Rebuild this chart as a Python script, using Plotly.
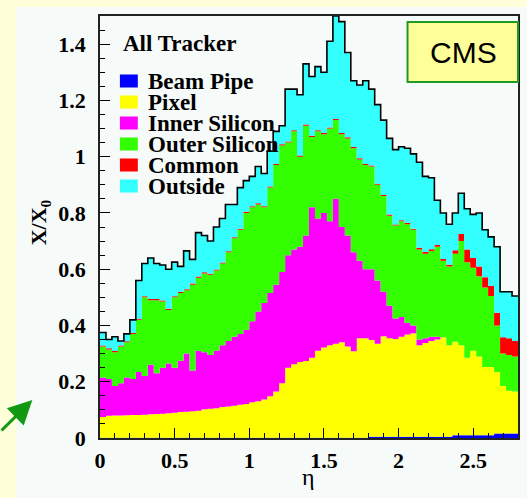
import numpy as np
import plotly.graph_objects as go

# ---------------- data (cumulative stack tops, X/X0) ----------------
eta_edges = np.linspace(0.0, 2.8, 71)   # 70 bins of 0.04 in eta

beam_top = [0.001] * 45 + [0.004] * 14 + [0.010] * 7 + [0.016] * 4

pixel_top = [0.075, 0.079, 0.080, 0.080, 0.081, 0.082, 0.082, 0.083, 0.084, 0.085,
             0.086, 0.088, 0.090, 0.092, 0.093, 0.095, 0.097, 0.102, 0.104, 0.106,
             0.110, 0.112, 0.115, 0.118, 0.121, 0.127, 0.131, 0.137, 0.148, 0.165,
             0.195, 0.250, 0.262, 0.270, 0.274, 0.285, 0.310, 0.322, 0.330, 0.335,
             0.340, 0.325, 0.308, 0.355, 0.355, 0.348, 0.335, 0.362, 0.355, 0.352,
             0.360, 0.368, 0.372, 0.330, 0.338, 0.345, 0.350, 0.358, 0.330, 0.342,
             0.330, 0.285, 0.310, 0.290, 0.252, 0.252, 0.235, 0.185, 0.168, 0.165]

inner_top = [0.215, 0.210, 0.185, 0.195, 0.215, 0.210, 0.235, 0.220, 0.260, 0.230,
             0.250, 0.265, 0.250, 0.275, 0.300, 0.240, 0.310, 0.305, 0.295, 0.310,
             0.330, 0.345, 0.360, 0.370, 0.385, 0.415, 0.450, 0.480, 0.515, 0.545,
             0.590, 0.650, 0.670, 0.680, 0.720, 0.820, 0.780, 0.800, 0.770, 0.850,
             0.750, 0.720, 0.660, 0.630, 0.600, 0.600, 0.560, 0.520, 0.470, 0.425,
             0.430, 0.410, 0.400, 0.350, 0.355, 0.360, 0.360, 0.358, 0.330, 0.342,
             0.330, 0.285, 0.310, 0.290, 0.252, 0.252, 0.235, 0.185, 0.168, 0.165]

outer_top = [0.325, 0.315, 0.305, 0.325, 0.340, 0.370, 0.420, 0.500, 0.490, 0.490,
             0.485, 0.455, 0.500, 0.515, 0.525, 0.545, 0.570, 0.585, 0.580, 0.595,
             0.620, 0.660, 0.710, 0.740, 0.800, 0.820, 0.830, 0.820, 0.890, 0.970,
             1.040, 1.050, 1.090, 1.000, 1.110, 1.070, 1.090, 1.080, 1.100, 1.130,
             1.080, 1.065, 1.030, 0.990, 0.970, 0.965, 0.900, 0.860, 0.790, 0.755,
             0.770, 0.760, 0.740, 0.670, 0.655, 0.665, 0.680, 0.630, 0.610, 0.655,
             0.700, 0.625, 0.605, 0.575, 0.535, 0.505, 0.400, 0.300, 0.295, 0.290]

common_top = [0.329, 0.319, 0.309, 0.329, 0.344, 0.374, 0.424, 0.504, 0.494, 0.494,
              0.489, 0.459, 0.504, 0.519, 0.529, 0.549, 0.574, 0.589, 0.584, 0.599,
              0.624, 0.664, 0.714, 0.744, 0.804, 0.824, 0.834, 0.824, 0.894, 0.974,
              1.044, 1.054, 1.094, 1.004, 1.114, 1.074, 1.094, 1.084, 1.104, 1.134,
              1.084, 1.069, 1.034, 0.994, 0.974, 0.969, 0.904, 0.864, 0.794, 0.759,
              0.774, 0.764, 0.744, 0.676, 0.661, 0.671, 0.686, 0.636, 0.616, 0.667,
              0.725, 0.670, 0.640, 0.610, 0.571, 0.540, 0.445, 0.358, 0.355, 0.345]

total_top = [0.375, 0.350, 0.360, 0.345, 0.370, 0.420, 0.560, 0.620, 0.640, 0.620,
             0.615, 0.600, 0.625, 0.610, 0.665, 0.635, 0.730, 0.720, 0.700, 0.750,
             0.780, 0.830, 0.830, 0.890, 0.915, 0.930, 0.965, 0.940, 1.020, 1.090,
             1.110, 1.240, 1.240, 1.220, 1.330, 1.285, 1.320, 1.300, 1.410, 1.500,
             1.480, 1.370, 1.270, 1.255, 1.270, 1.240, 1.185, 1.130, 1.065, 1.025,
             1.035, 1.030, 1.010, 0.980, 0.930, 0.925, 0.845, 0.800, 0.760, 0.800,
             0.870, 0.815, 0.795, 0.800, 0.740, 0.715, 0.680, 0.520, 0.520, 0.505]

layer_names = ["Beam Pipe", "Pixel", "Inner Silicon", "Outer Silicon", "Common", "Outside"]
layer_tops = [beam_top, pixel_top, inner_top, outer_top, common_top, total_top]
layer_colors = ["#0000FF", "#FFFF00", "#FF00FF", "#33FF00", "#FF0000", "#33FFFF"]

x_tick_vals = [0, 0.5, 1, 1.5, 2, 2.5]
x_tick_text = ["0", "0.5", "1", "1.5", "2", "2.5"]
y_tick_vals = [0, 0.2, 0.4, 0.6, 0.8, 1.0, 1.2, 1.4]
y_tick_text = ["0", "0.2", "0.4", "0.6", "0.8", "1", "1.2", "1.4"]

# ---------------- geometry helpers (pixel -> paper) ----------------
W, H = 527, 498
L, R, T, B = 100, 520, 16, 438


def px(xp):
    return (xp - L) / (R - L)


def py(yp):
    return (B - yp) / (B - T)


def step(v):
    return list(v) + [v[-1]]


xs = list(eta_edges)

fig = go.Figure()
for i, (name, top, col) in enumerate(zip(layer_names, layer_tops, layer_colors)):
    fig.add_trace(go.Scatter(
        x=xs, y=step(top), mode="lines", name=name,
        line=dict(width=0, shape="hv", color=col),
        fill="tozeroy" if i == 0 else "tonexty", fillcolor=col,
        hoverinfo="skip", showlegend=False))

fig.add_trace(go.Scatter(
    x=xs, y=step(total_top), mode="lines",
    line=dict(width=1.6, shape="hv", color="black"),
    hoverinfo="skip", showlegend=False))

serif_b = dict(family="Liberation Serif", size=22, color="black", weight="bold")
serif_leg = dict(family="Liberation Serif", size=23, color="black", weight="bold")

shapes = []
annotations = []

# pale canvas panel
shapes.append(dict(type="rect", xref="paper", yref="paper",
                   x0=px(16), x1=px(W + 5), y0=py(H + 5), y1=py(7),
                   fillcolor="#F6FAF8", line=dict(width=0), layer="below"))

# legend
annotations.append(dict(xref="paper", yref="paper", x=px(121), y=py(43),
                        xanchor="left", yanchor="middle", showarrow=False,
                        text="All Tracker", font=serif_leg))
for i, (name, col) in enumerate(zip(layer_names, layer_colors)):
    yc = 81 + 21 * i
    shapes.append(dict(type="rect", xref="paper", yref="paper",
                       x0=px(120), x1=px(138), y0=py(yc + 6.5), y1=py(yc - 6.5),
                       fillcolor=col, line=dict(width=0)))
    annotations.append(dict(xref="paper", yref="paper", x=px(146), y=py(yc + 0.5),
                            xanchor="left", yanchor="middle", showarrow=False,
                            text=name, font=serif_leg))

# CMS box
shapes.append(dict(type="rect", xref="paper", yref="paper",
                   x0=px(409), x1=px(520), y0=py(82), y1=py(22),
                   fillcolor="#FFFF99", line=dict(color="#229922", width=2)))
annotations.append(dict(xref="paper", yref="paper", x=px(465), y=py(53),
                        xanchor="center", yanchor="middle", showarrow=False,
                        text="CMS", font=dict(family="Liberation Sans", size=30, color="black")))

# axis titles
annotations.append(dict(xref="paper", yref="paper", x=px(40), y=py(222),
                        xanchor="center", yanchor="middle", showarrow=False, textangle=-90,
                        text="X/X<sub>0</sub>", font=serif_b))
annotations.append(dict(xref="paper", yref="paper", x=px(309), y=py(477),
                        xanchor="center", yanchor="middle", showarrow=False,
                        text="η", font=dict(family="Liberation Serif", size=24, color="black")))

# green arrow
annotations.append(dict(xref="paper", yref="paper", x=px(32), y=py(400),
                        ax=-40, ay=32, showarrow=True, text="",
                        arrowhead=2, arrowsize=1.6, arrowwidth=3, arrowcolor="#119911"))

fig.update_layout(
    width=W, height=H, autosize=False,
    margin=dict(l=L, r=W - R, t=T, b=H - B),
    paper_bgcolor="#FFFFD9", plot_bgcolor="#F6FAF8",
    shapes=shapes, annotations=annotations,
    xaxis=dict(range=[0, 2.8], tickmode="array", tickvals=x_tick_vals, ticktext=x_tick_text,
               ticks="inside", ticklen=10, tickwidth=1, tickcolor="black",
               showline=True, mirror=True, linecolor="#222", linewidth=1.5,
               showgrid=False, zeroline=False, tickfont=serif_b, ticklabelstandoff=2,
               minor=dict(tickmode="linear", tick0=0, dtick=0.1, ticks="inside", ticklen=5,
                          tickcolor="black", showgrid=False)),
    yaxis=dict(range=[0, 1.5], tickmode="array", tickvals=y_tick_vals, ticktext=y_tick_text,
               ticks="inside", ticklen=10, tickwidth=1, tickcolor="black",
               showline=True, mirror=True, linecolor="#222", linewidth=1.5,
               showgrid=False, zeroline=False, tickfont=serif_b, ticklabelstandoff=8,
               minor=dict(tickmode="linear", tick0=0, dtick=0.05, ticks="inside", ticklen=5,
                          tickcolor="black", showgrid=False)),
)

fig.write_html("out.html")
